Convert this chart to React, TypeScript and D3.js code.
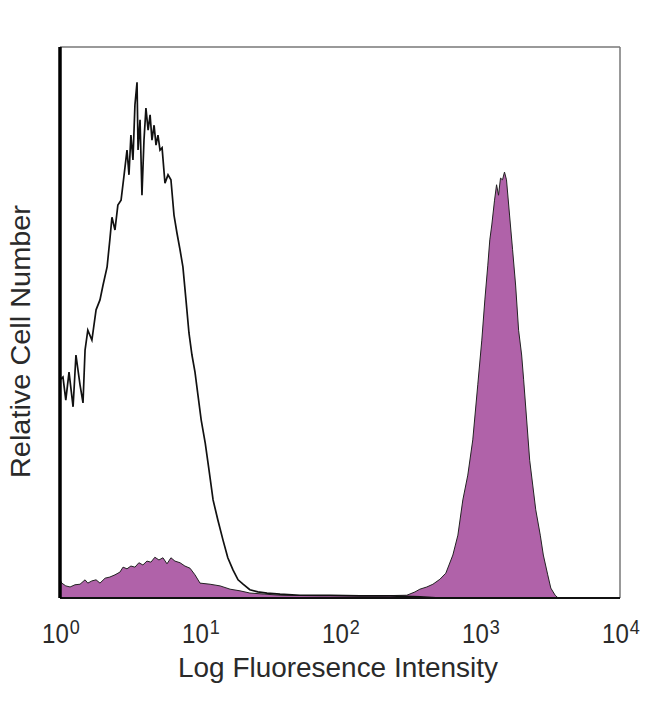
import React from "react";
import * as d3 from "d3";

// Open (unstained/isotype) histogram: intensity, relative count
const openIntensity = [1.0, 1.05, 1.1, 1.16, 1.24, 1.3, 1.39, 1.46, 1.51, 1.58, 1.69, 1.81, 1.93, 2.03, 2.17, 2.27, 2.35, 2.47, 2.59, 2.73, 2.87, 3.01, 3.11, 3.21, 3.32, 3.43, 3.55, 3.61, 3.73, 3.85, 3.98, 4.11, 4.26, 4.4, 4.54, 4.7, 4.85, 5.01, 5.18, 5.36, 5.62, 5.91, 6.2, 6.52, 6.85, 7.2, 7.55, 7.94, 8.34, 8.76, 9.21, 9.67, 10.2, 10.9, 11.6, 12.4, 13.4, 14.6, 15.8, 17.2, 18.7, 20.3, 22.7, 25.9, 30.1, 37.3, 51.8, 84.8, 139, 228, 372, 517];
const openCount = [39.6, 40.1, 35.9, 41.0, 34.7, 44.1, 38.7, 35.4, 45.0, 48.6, 46.8, 52.3, 54.1, 56.8, 60.1, 65.0, 69.1, 66.8, 71.3, 72.2, 76.8, 81.3, 76.8, 84.0, 79.5, 89.5, 93.6, 81.3, 86.8, 73.1, 83.1, 88.9, 84.9, 87.7, 83.1, 85.8, 82.2, 84.0, 81.3, 81.7, 75.3, 76.8, 75.9, 69.5, 66.2, 63.2, 60.1, 54.1, 48.1, 44.1, 41.0, 36.8, 32.3, 28.1, 23.2, 17.8, 14.2, 10.5, 7.3, 5.1, 3.3, 2.5, 1.5, 1.1, 0.9, 0.7, 0.5, 0.5, 0.4, 0.4, 0.2, 0];

// Filled (stained) histogram
const stainIntensity = [1.0, 1.03, 1.1, 1.18, 1.28, 1.39, 1.51, 1.58, 1.69, 1.81, 1.93, 2.1, 2.27, 2.47, 2.68, 2.82, 3.01, 3.21, 3.43, 3.66, 3.91, 4.18, 4.46, 4.76, 5.09, 5.44, 5.81, 6.2, 6.62, 7.2, 7.8, 8.49, 9.21, 10.0, 11.8, 13.9, 16.4, 19.3, 22.7, 29.1, 37.3, 72, 194, 300, 343, 372, 417, 461, 517, 570, 640, 695, 754, 818, 888, 964, 1030, 1083, 1137, 1175, 1214, 1270, 1313, 1356, 1401, 1448, 1496, 1546, 1626, 1709, 1796, 1887, 1984, 2050, 2155, 2264, 2380, 2502, 2695, 2833, 3047, 3204, 3442, 3618];
const stainCount = [3.3, 2.7, 2.2, 2.0, 2.4, 2.5, 3.3, 2.7, 3.1, 3.3, 2.7, 3.6, 3.8, 4.2, 4.7, 5.6, 5.3, 5.8, 5.6, 6.4, 6.0, 6.7, 6.5, 7.4, 6.9, 7.3, 6.2, 7.3, 6.7, 6.4, 5.8, 5.4, 4.2, 2.7, 2.5, 2.2, 1.6, 1.3, 0.9, 0.7, 0.5, 0.4, 0.4, 0.5, 1.1, 1.6, 2.0, 2.5, 3.4, 4.5, 7.8, 11.4, 17.8, 22.3, 28.7, 38.7, 46.8, 54.1, 60.4, 65.0, 67.7, 72.2, 75.0, 73.1, 76.2, 75.9, 77.3, 75.9, 69.5, 63.2, 56.8, 48.6, 44.1, 39.6, 32.3, 25.0, 20.5, 16.0, 11.4, 7.8, 4.2, 1.8, 0.5, 0];

const tickValues = [1, 10, 100, 1000, 10000];
const tickExponents = ["0", "1", "2", "3", "4"];
const xTitle = "Log Fluoresence Intensity";
const yTitle = "Relative Cell Number";

const W = 650;
const H = 704;
const left = 60;
const right = 620;
const top = 47;
const bottom = 598;

export default function App() {
  const x = d3.scaleLog().domain([1, 10000]).range([left, right]);
  const y = d3.scaleLinear().domain([0, 100]).range([bottom, top]);

  const stain = stainIntensity.map((v, i) => [v, stainCount[i]] as [number, number]);
  const open = openIntensity.map((v, i) => [v, openCount[i]] as [number, number]);

  const area = d3
    .area<[number, number]>()
    .x((d) => x(d[0]))
    .y0(y(0))
    .y1((d) => y(d[1]));
  const line = d3
    .line<[number, number]>()
    .x((d) => x(d[0]))
    .y((d) => y(d[1]));

  return (
    <svg
      width={W}
      height={H}
      style={{ position: "absolute", left: 0, top: 0, background: "#fff" }}
      fontFamily="'Liberation Sans', Arial, sans-serif"
    >
      <rect x={0} y={0} width={W} height={H} fill="#fff" />
      {/* frame */}
      <line x1={left} x2={right} y1={top} y2={top} stroke="#777" strokeWidth={1.5} />
      <line x1={right} x2={right} y1={top} y2={bottom} stroke="#777" strokeWidth={1.5} />
      {/* stained filled histogram */}
      <path d={area(stain) || ""} fill="#b062a9" stroke="none" />
      <path d={line(stain) || ""} fill="none" stroke="#222" strokeWidth={1} />
      {/* open histogram */}
      <path d={line(open) || ""} fill="none" stroke="#111" strokeWidth={1.7} />
      {/* axes */}
      <line x1={left} x2={right} y1={bottom} y2={bottom} stroke="#111" strokeWidth={2} />
      <line x1={left} x2={left} y1={top} y2={bottom} stroke="#000" strokeWidth={3.5} />
      {/* tick labels */}
      {tickValues.map((t, i) => (
        <g key={t} transform={`translate(${x(t) - 18},643) scale(0.86,1)`}>
          <text x={0} y={0} fontSize={28} fill="#2a2a2a">
            10
            <tspan dy={-9} dx={1} fontSize={21}>
              {tickExponents[i]}
            </tspan>
          </text>
        </g>
      ))}
      <text
        x={178}
        y={677}
        fontSize={27}
        fill="#2a2a2a"
        textLength={320}
        lengthAdjust="spacingAndGlyphs"
      >
        {xTitle}
      </text>
      <text
        transform={`translate(30,478) rotate(-90)`}
        fontSize={27}
        fill="#2a2a2a"
        textLength={273}
        lengthAdjust="spacingAndGlyphs"
      >
        {yTitle}
      </text>
    </svg>
  );
}
